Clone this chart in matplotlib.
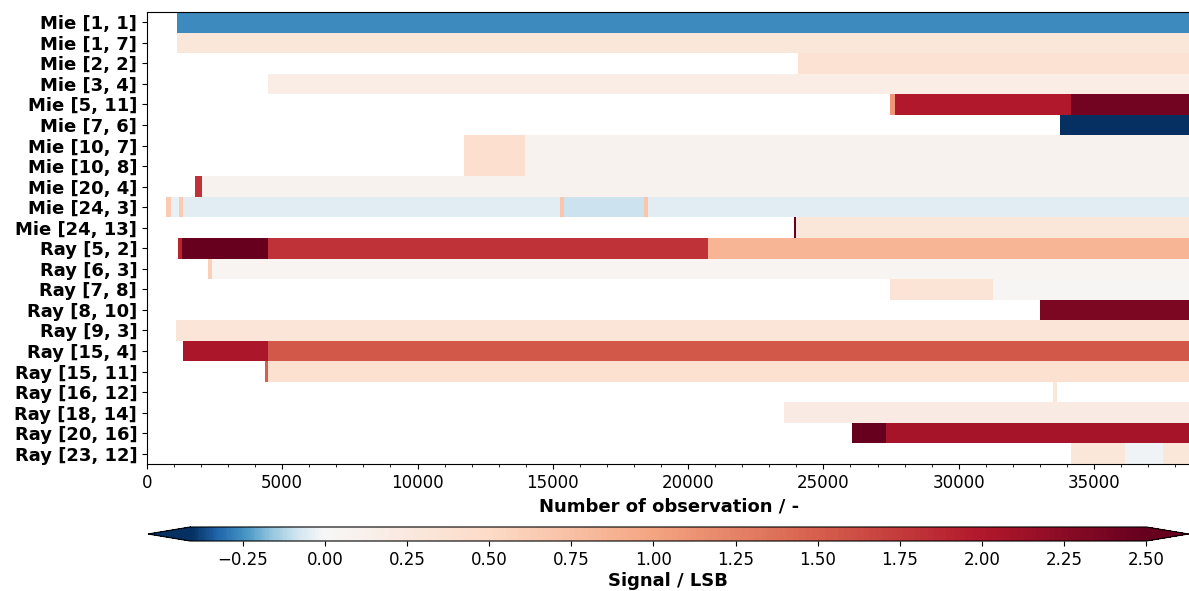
import matplotlib
matplotlib.use("Agg")
import matplotlib.pyplot as plt
import numpy as np
from matplotlib.colors import ListedColormap, Normalize

# row labels (top to bottom)
labels = ["Mie [1, 1]", "Mie [1, 7]", "Mie [2, 2]", "Mie [3, 4]", "Mie [5, 11]",
          "Mie [7, 6]", "Mie [10, 7]", "Mie [10, 8]", "Mie [20, 4]", "Mie [24, 3]",
          "Mie [24, 13]", "Ray [5, 2]", "Ray [6, 3]", "Ray [7, 8]", "Ray [8, 10]",
          "Ray [9, 3]", "Ray [15, 4]", "Ray [15, 11]", "Ray [16, 12]", "Ray [18, 14]",
          "Ray [20, 16]", "Ray [23, 12]"]

# observation index where each step starts, and the signal from there on
nan = np.nan
seg_starts = [
    [1100],
    [1110],
    [24070],
    [4480],
    [27480, 27630, 34150],
    [33740],
    [11700, 13960],
    [11700, 13960],
    [1780, 2020],
    [700, 900, 1200, 1330, 15260, 15400, 18370, 18520],
    [23900, 24000],
    [1150, 1300, 4480, 20740],
    [2260, 2400],
    [27480, 31260],
    [33000],
    [1070],
    [1330, 4480],
    [4370, 4480],
    [33480, 33630],
    [23560],
    [26040, 27300],
    [34150, 36150, 37560],
]
seg_values = [
    [-0.26],
    [0.30],
    [0.38],
    [0.18],
    [1.1, 2.0, 2.42],
    [-0.5],
    [0.42, 0.08],
    [0.42, 0.08],
    [1.8, 0.10],
    [0.65, -0.04, 0.65, -0.05, 0.7, -0.09, 0.7, -0.05],
    [2.7, 0.30],
    [1.9, 2.6, 1.8, 0.85],
    [0.6, 0.04],
    [0.35, 0.03],
    [2.35],
    [0.33],
    [2.05, 1.55],
    [1.5, 0.40],
    [0.28, nan],
    [0.20],
    [2.65, 2.08],
    [0.30, -0.02, 0.30],
]
n_obs = 38600

vmin, vmax = -0.41, 2.5

# RdBu_r split so that white sits at zero
base = plt.get_cmap("RdBu_r")
n_col = 512
n_lo = int(round(n_col * (-vmin) / (vmax - vmin)))
cols = np.vstack([base(np.linspace(0, 0.5, n_lo)),
                  base(np.linspace(0.5, 1, n_col - n_lo))])
cmap = ListedColormap(cols)
cmap.set_under(base(0.0))
cmap.set_over(base(1.0))
cmap.set_bad("white")
norm = Normalize(vmin=vmin, vmax=vmax)

# build step grid
edges = sorted(set([0, n_obs] + [s for row in seg_starts for s in row]))
edges = np.array(edges, dtype=float)
C = np.full((len(labels), len(edges) - 1), np.nan)
for i, (st, vals) in enumerate(zip(seg_starts, seg_values)):
    for j in range(len(edges) - 1):
        x = edges[j]
        idx = np.searchsorted(st, x, side="right") - 1
        if idx >= 0:
            C[i, j] = vals[idx]
C = np.ma.masked_invalid(C)

fig = plt.figure(figsize=(11.89, 5.91), dpi=100)
ax = fig.add_axes([0.1236, 0.2149, 0.8784, 0.7648])
mesh = ax.pcolormesh(edges, np.arange(len(labels) + 1), C, cmap=cmap, norm=norm)
ax.set_xlim(0, n_obs)
ax.set_ylim(len(labels), 0)
ax.set_yticks(np.arange(len(labels)) + 0.5)
ax.set_yticklabels(labels, fontsize=13, fontweight="bold")
ax.set_xticks(np.arange(0, 35001, 5000))
ax.set_xticks(np.arange(0, n_obs, 1000), minor=True)
ax.tick_params(axis="x", labelsize=12)
ax.set_xlabel("Number of observation / -", fontsize=13, fontweight="bold")

cax = fig.add_axes([0.1245, 0.0846, 0.875, 0.0237])
cb = fig.colorbar(mesh, cax=cax, orientation="horizontal", extend="both",
                  extendfrac=0.044)
cb.set_ticks(np.arange(-0.25, 2.51, 0.25))
cb.ax.tick_params(labelsize=12)
cb.set_label("Signal / LSB", fontsize=13, fontweight="bold", labelpad=2)

fig.savefig("out.png", dpi=100)
